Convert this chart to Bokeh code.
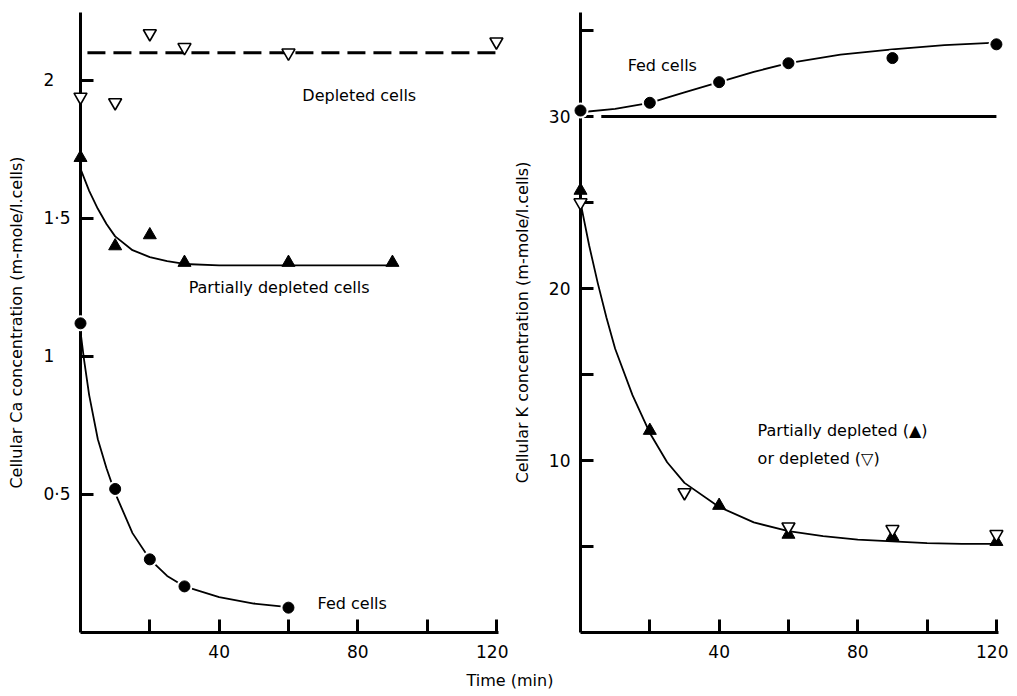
from bokeh.plotting import figure
from bokeh.models import Label, Div, FixedTicker, Range1d
from bokeh.layouts import row, column
from bokeh.embed import file_html
from bokeh.resources import INLINE

FONT = "DejaVu Sans"
INK = "#000000"

# ---------------- Left panel: cellular Ca (m-mole/l.cells) ----------------
ca_fed_t = [0, 10, 20, 30, 60]
ca_fed = [1.12, 0.52, 0.265, 0.167, 0.09]
ca_fed_fit_t = [0, 1, 2.5, 5, 7.5, 10, 15, 20, 25, 30, 40, 50, 60]
ca_fed_fit = [1.09, 0.99, 0.86, 0.70, 0.595, 0.505, 0.36, 0.265, 0.205, 0.167, 0.128, 0.105, 0.092]

ca_part_t = [0, 10, 20, 30, 60, 90]
ca_part = [1.72, 1.40, 1.44, 1.34, 1.34, 1.34]
ca_part_fit_t = [0, 2.5, 5, 7.5, 10, 15, 20, 25, 30, 40, 60, 90]
ca_part_fit = [1.68, 1.60, 1.535, 1.48, 1.435, 1.385, 1.36, 1.345, 1.335, 1.33, 1.33, 1.33]

ca_dep_t = [0, 10, 20, 30, 60, 120]
ca_dep = [1.94, 1.92, 2.17, 2.12, 2.10, 2.14]
ca_dep_line_t = [2, 121]
ca_dep_line = [2.1, 2.1]

ca_yticks = [0.5, 1, 1.5, 2]
ca_ylabels = ["0·5", "1\u2008\u2007", "1·5", "2\u2008\u2007"]

# ---------------- Right panel: cellular K (m-mole/l.cells) ----------------
k_fed_t = [0, 20, 40, 60, 90, 120]
k_fed = [30.35, 30.8, 32.0, 33.1, 33.4, 34.2]
k_fed_fit_t = [0, 10, 20, 30, 40, 50, 60, 75, 90, 105, 120]
k_fed_fit = [30.25, 30.45, 30.8, 31.4, 32.0, 32.6, 33.1, 33.6, 33.9, 34.15, 34.3]
k_ref_line_t = [6, 120]
k_ref_line = [30, 30]

k_part_t = [0, 20, 40, 60, 90, 120]
k_part = [25.7, 11.74, 7.38, 5.7, 5.57, 5.28]
k_dep_t = [0, 30, 60, 90, 120]
k_dep = [25.0, 8.14, 6.15, 6.0, 5.71]
k_fit_t = [0, 2.5, 5, 7.5, 10, 15, 20, 25, 30, 40, 50, 60, 70, 80, 90, 100, 110, 120]
k_fit = [25.0, 22.5, 20.3, 18.3, 16.5, 13.8, 11.6, 9.9, 8.7, 7.3, 6.4, 5.9, 5.6, 5.4, 5.3, 5.2, 5.15, 5.15]

k_yticks = [5, 10, 15, 20, 25, 30, 35]
k_ylabels = ["", "10", "", "20", "", "30", ""]

x_ticks = [20, 40, 60, 80, 100, 120]
x_labels = ["", "40", "", "80", "", "120"]


def make_fig(width, border_left, y_end, yticks, ylabels, ytitle):
    p = figure(width=width, height=672,
               x_range=Range1d(0, 120.6), y_range=Range1d(0, y_end),
               output_backend="svg", toolbar_location=None,
               min_border_left=border_left, min_border_right=10,
               min_border_top=12, min_border_bottom=40)
    p.outline_line_color = None
    p.grid.visible = False
    p.background_fill_color = "white"
    p.border_fill_color = "white"
    for ax in (p.xaxis[0], p.yaxis[0]):
        ax.axis_line_width = 3
        ax.axis_line_color = INK
        ax.major_tick_line_width = 3
        ax.major_tick_line_color = INK
        ax.major_tick_in = 13
        ax.major_tick_out = 0
        ax.minor_tick_line_color = None
        ax.major_label_text_font = FONT
        ax.major_label_text_font_size = "17px"
        ax.major_label_text_color = INK
    p.xaxis.ticker = FixedTicker(ticks=x_ticks)
    p.xaxis.major_label_overrides = {t: s for t, s in zip(x_ticks, x_labels)}
    p.xaxis.major_label_standoff = 12
    p.yaxis.ticker = FixedTicker(ticks=yticks)
    p.yaxis.major_label_overrides = {t: s for t, s in zip(yticks, ylabels)}
    p.yaxis.major_label_standoff = 10
    p.yaxis.axis_label = ytitle
    p.yaxis.axis_label_text_font = FONT
    p.yaxis.axis_label_text_font_size = "16px"
    p.yaxis.axis_label_text_font_style = "normal"
    p.yaxis.axis_label_text_color = INK
    p.yaxis.axis_label_standoff = 14
    return p


def circles(p, x, y):
    r1 = p.scatter(x, y, marker="circle", size=16, fill_color="white", line_color=None)
    r2 = p.scatter(x, y, marker="circle", size=11, fill_color=INK, line_color=INK)
    r1.level = "annotation"
    r2.level = "annotation"


def up_tri(p, x, y):
    r = p.scatter(x, y, marker="triangle", size=13, fill_color=INK, line_color=INK, line_width=1)
    r.level = "annotation"


def down_tri(p, x, y):
    r = p.scatter(x, y, marker="inverted_triangle", size=13, fill_color="white",
                  line_color=INK, line_width=1.6)
    r.level = "annotation"


def text(p, x, y, s):
    p.add_layout(Label(x=x, y=y, text=s, text_font=FONT, text_font_size="16px",
                       text_color=INK, text_baseline="middle", text_align="left"))


# Left figure
p1 = make_fig(508, 80, 2.246, ca_yticks, ca_ylabels, "Cellular Ca concentration (m-mole/l.cells)")
p1.line(ca_fed_fit_t, ca_fed_fit, line_color=INK, line_width=1.8)
p1.line(ca_part_fit_t, ca_part_fit, line_color=INK, line_width=1.8)
p1.line(ca_dep_line_t, ca_dep_line, line_color=INK, line_width=3, line_dash="18 8")
circles(p1, ca_fed_t, ca_fed)
up_tri(p1, ca_part_t, ca_part)
down_tri(p1, ca_dep_t, ca_dep)
text(p1, 64.0, 1.946, "Depleted cells")
text(p1, 31.2, 1.25, "Partially depleted cells")
text(p1, 68.4, 0.105, "Fed cells")

# Right figure
p2 = make_fig(500, 72, 36.05, k_yticks, k_ylabels, "Cellular K concentration (m-mole/l.cells)")
p2.line(k_fed_fit_t, k_fed_fit, line_color=INK, line_width=1.8)
p2.line(k_ref_line_t, k_ref_line, line_color=INK, line_width=3)
p2.line(k_fit_t, k_fit, line_color=INK, line_width=1.8)
circles(p2, k_fed_t, k_fed)
up_tri(p2, k_part_t, k_part)
down_tri(p2, k_dep_t, k_dep)
text(p2, 13.6, 32.97, "Fed cells")
text(p2, 51.1, 11.74, "Partially depleted (\u25B2)")
text(p2, 51.1, 10.12, "or depleted (\u25BD)")

xtitle = Div(text="Time (min)", width=1000, height=20, margin=(0, 0, 0, 10),
             styles={"font-family": FONT, "font-size": "16px", "color": INK,
                     "text-align": "center", "line-height": "18px"})

layout = column(row(p1, p2), xtitle)
open("out.html", "w").write(file_html(layout, INLINE))
